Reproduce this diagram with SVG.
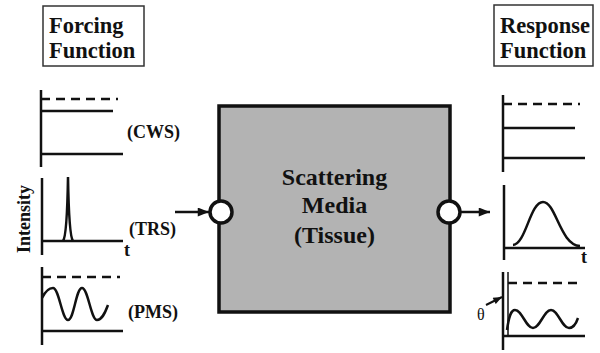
<svg xmlns="http://www.w3.org/2000/svg" width="600" height="353" viewBox="0 0 600 353">
<style>
  .t { font-family: 'Liberation Serif', 'Times New Roman', serif; font-weight: bold; fill: #111; }
  .title { font-size: 22.5px; }
  .lbl { font-size: 18px; }
  .mid { font-size: 24px; text-anchor: middle; }
  .ax { stroke: #111; stroke-width: 2.5; fill: none; }
  .dash { stroke: #111; stroke-width: 2.5; stroke-dasharray: 9 6; fill: none; }
  .curve { stroke: #111; stroke-width: 2.5; fill: none; }
  .frame { fill: #fff; stroke: #333; stroke-width: 1.5; }
  .port { fill: #fff; stroke: #111; stroke-width: 3.5; }
  .conn { stroke: #111; stroke-width: 2.5; fill: none; }
</style>
<defs>
  <marker id="ah" viewBox="0 0 10 8" refX="10" refY="4" markerWidth="13" markerHeight="9" markerUnits="userSpaceOnUse" orient="auto">
    <path d="M0,0 L10,4 L0,8 z" fill="#111"/>
  </marker>
  <marker id="ahs" viewBox="0 0 10 8" refX="10" refY="4" markerWidth="10" markerHeight="7" markerUnits="userSpaceOnUse" orient="auto">
    <path d="M0,0 L10,4 L0,8 z" fill="#111"/>
  </marker>
</defs>

<g id="forcing-title">
  <rect class="frame" x="43" y="6" width="101" height="60"/>
  <text class="t title" x="49" y="33">Forcing</text>
  <text class="t title" x="49" y="58">Function</text>
</g>

<g id="response-title">
  <rect class="frame" x="494" y="5" width="99" height="61"/>
  <text class="t title" x="500" y="33">Response</text>
  <text class="t title" x="500" y="58">Function</text>
</g>

<g id="cws-in">
  <line class="ax" x1="41" y1="90" x2="41" y2="167"/>
  <line class="dash" x1="41" y1="99" x2="118" y2="99"/>
  <line class="ax" x1="41" y1="111" x2="113" y2="111"/>
  <line class="ax" x1="41" y1="154" x2="123" y2="154"/>
  <text class="t lbl" x="127" y="138">(CWS)</text>
</g>

<g id="trs-in">
  <line class="ax" x1="42" y1="178" x2="42" y2="255"/>
  <line class="ax" x1="42" y1="241" x2="123" y2="241"/>
  <path class="curve" d="M63,241 Q67,236 68,177 Q69,236 73,241"/>
  <text class="t lbl" x="124" y="256">t</text>
  <text class="t lbl" x="129" y="235">(TRS)</text>
  <text class="t lbl" transform="translate(30,219) rotate(-90)" text-anchor="middle">Intensity</text>
</g>

<g id="pms-in">
  <line class="ax" x1="42" y1="267" x2="42" y2="345"/>
  <line class="dash" x1="42" y1="277" x2="120" y2="277"/>
  <line class="ax" x1="42" y1="331" x2="123" y2="331"/>
  <path class="curve" d="M42,298 C46,290 49,288 53,288 C59,288 62,320 68,320 C74,320 76,288 82,288 C88,288 91,320 97,320 C102,320 105,313 108,305"/>
  <text class="t lbl" x="128" y="318">(PMS)</text>
</g>

<g id="media">
  <rect x="219" y="106" width="231" height="206" fill="#b3b3b3" stroke="#111" stroke-width="3.5"/>
  <text class="t mid" x="334.5" y="185">Scattering</text>
  <text class="t mid" x="334.5" y="213">Media</text>
  <text class="t mid" x="334.5" y="243">(Tissue)</text>
  <circle class="port" cx="221" cy="212" r="11"/>
  <circle class="port" cx="449" cy="212" r="11"/>
</g>

<g id="cws-out">
  <line class="ax" x1="503" y1="95" x2="503" y2="172"/>
  <line class="dash" x1="503" y1="104" x2="580" y2="104"/>
  <line class="ax" x1="503" y1="128" x2="575" y2="128"/>
  <line class="ax" x1="503" y1="158" x2="585" y2="158"/>
</g>

<g id="trs-out">
  <line class="ax" x1="504" y1="185" x2="504" y2="260"/>
  <line class="ax" x1="504" y1="248" x2="585" y2="248"/>
  <path class="curve" d="M513,245 C526,244 530,202 543,202 C556,202 560,245 580,246"/>
  <text class="t lbl" x="581" y="263">t</text>
</g>

<g id="pms-out">
  <line class="ax" x1="503" y1="272" x2="503" y2="350"/>
  <line x1="508" y1="272" x2="508" y2="336" stroke="#111" stroke-width="1.5"/>
  <line class="dash" x1="508" y1="283" x2="583" y2="283"/>
  <line class="ax" x1="503" y1="336" x2="585" y2="336"/>
  <path class="curve" d="M507,330 C509,316 511,310 515,310 C522,310 526,328 533,328 C540,328 544,310 551,310 C558,310 562,328 569,328 C573,328 576,324 578,318"/>
  <text x="477" y="320" font-family="Liberation Serif, serif" font-size="16" fill="#111">θ</text>
  <line x1="486" y1="305" x2="502" y2="297" stroke="#111" stroke-width="2" marker-end="url(#ahs)"/>
</g>

<g id="connectors">
  <line class="conn" x1="175" y1="212" x2="209" y2="212" marker-end="url(#ah)"/>
  <line class="conn" x1="461" y1="212" x2="490" y2="212" marker-end="url(#ah)"/>
</g>
</svg>
